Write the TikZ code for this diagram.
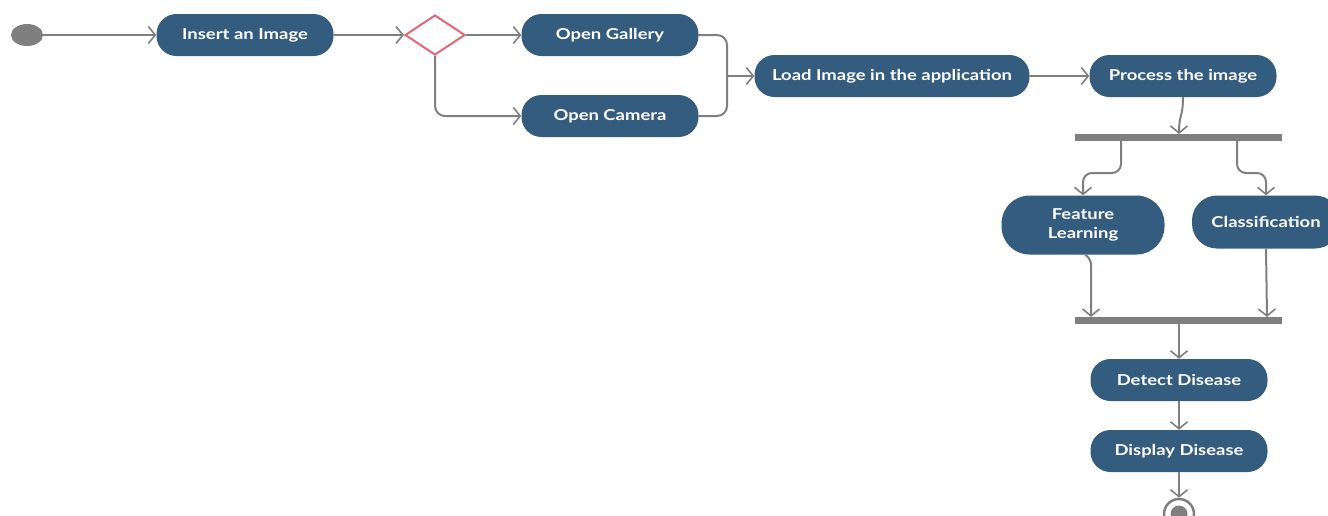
\documentclass[tikz,border=0pt]{standalone}
\usepackage{fontspec}
\usepackage{graphicx}
\setmainfont{Lato}
\usetikzlibrary{arrows.meta,shapes.geometric,calc}
\definecolor{nodeblue}{HTML}{335C7E}
\definecolor{linegray}{HTML}{7F7F7F}
\definecolor{diared}{HTML}{E06874}
\newcommand{\wt}[1]{\scalebox{1.23}[1]{#1}}
\begin{document}
\begin{tikzpicture}[x=1pt,y=-1pt,
  act/.style={fill=nodeblue, text=white, rounded corners=20pt, minimum height=42pt,
    minimum width=177pt, inner sep=0pt, align=center,
    font=\fontsize{15}{19}\selectfont\bfseries},
  bar/.style={fill=linegray, minimum width=207pt, minimum height=7pt, inner sep=0pt},
  arr/.style={draw=linegray, line width=2pt, -{Straight Barb[length=7pt,width=17pt,line width=1.6pt]}},
  ln/.style={draw=linegray, line width=2pt}
]
\useasboundingbox (0,0) rectangle (1328,515);
% nodes
\node[fill=linegray, ellipse, minimum width=32pt, minimum height=22pt, inner sep=0pt] (start) at (27,35) {};
\node[act] (insert) at (245,35) {\wt{Insert an Image}};
\node[diamond, draw=diared, line width=2pt, fill=white, minimum width=60pt, minimum height=40pt, inner sep=0pt, aspect=1.5] (dec) at (435,35) {};
\node[act] (gallery) at (610,35) {\wt{Open Gallery}};
\node[act] (camera) at (610,116) {\wt{Open Camera}};
\node[act, minimum width=275pt] (load) at (892,76) {\wt{Load Image in the application}};
\node[act, minimum width=187pt] (process) at (1183,76) {\wt{Process the image}};
\node[bar] (fork1) at (1178,137) {};
\node[act, minimum width=163pt, minimum height=59pt, rounded corners=28pt] (feature) at (1083,225) {\wt{Feature}\\\wt{Learning}};
\node[act, minimum width=148pt, minimum height=53pt, rounded corners=25pt] (classif) at (1266,222) {\wt{Classification}};
\node[bar] (fork2) at (1178,320) {};
\node[act] (detect) at (1179,380) {\wt{Detect Disease}};
\node[act] (display) at (1179,451) {\wt{Display Disease}};
\node[circle, draw=linegray, line width=2.5pt, fill=white, minimum size=30pt, inner sep=0pt] (end) at (1179,514) {};
\node[circle, fill=linegray, minimum size=17pt, inner sep=0pt] (endin) at (end.center) {};
% coordinates
\coordinate (f1a) at (1121,140);
\coordinate (f1b) at (1237,140);
\coordinate (f1in) at (1179,134);
\coordinate (f2a) at (1091,317);
\coordinate (f2b) at (1267,317);
\coordinate (f2out) at (1179,323);
\coordinate (joinpt) at (727,76);
% connectors
\draw[arr] (start) -- (insert);
\draw[arr] (insert) -- (dec.west);
\draw[arr] (dec.east) -- (gallery);
\draw[arr, rounded corners=10pt] (dec.south) |- (camera.west);
\draw[ln, rounded corners=10pt] (gallery.east) -| (joinpt);
\draw[ln, rounded corners=10pt] (camera.east) -| (joinpt);
\draw[arr] (joinpt) -- (load.west);
\draw[arr] (load) -- (process);
\draw[arr] (process.south) .. controls +(0,20) and +(0,-20) .. (f1in);
\draw[arr, rounded corners=9pt] (f1a) -- ++(0,33) -| (feature.north);
\draw[arr, rounded corners=9pt] (f1b) -- ++(0,33) -| (classif.north);
\draw[arr, rounded corners=6pt] ($(feature.south)+(2,0)$) -- ++(6,4) -- (f2a);
\draw[arr] (classif.south) -- (f2b);
\draw[arr] (f2out) -- (detect.north);
\draw[arr] (detect) -- (display);
\draw[arr] (display) -- (end.north);
\end{tikzpicture}
\end{document}
